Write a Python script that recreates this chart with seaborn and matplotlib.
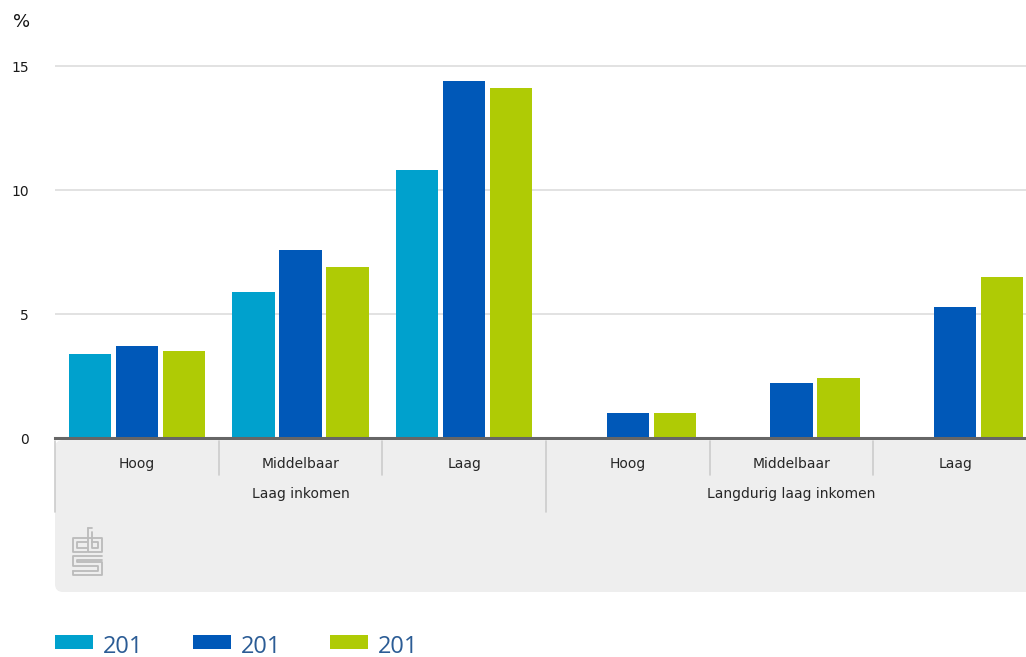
import matplotlib
matplotlib.use("Agg")
import matplotlib.pyplot as plt
from matplotlib.patches import FancyBboxPatch
from matplotlib.lines import Line2D
from matplotlib.transforms import blended_transform_factory, IdentityTransform
import numpy as np
import pandas as pd
import seaborn as sns

# --- data -------------------------------------------------------------
groups = ["Laag inkomen", "Langdurig laag inkomen"]
levels = ["Hoog", "Middelbaar", "Laag"]
series_labels = ["201", "201", "201"]
series_a = [3.4, 5.9, 10.8, np.nan, np.nan, np.nan]
series_b = [3.7, 7.6, 14.4, 1.0, 2.2, 5.3]
series_c = [3.5, 6.9, 14.1, 1.0, 2.4, 6.5]
y_ticks = [0, 5, 10, 15]
unit_label = "%"

colors = ["#00a1cd", "#0058b8", "#afcb05"]

# --- long table for seaborn --------------------------------------------
cat_keys = [f"{g}|{l}" for g in groups for l in levels]
series_keys = ["s1", "s2", "s3"]
rows = []
for key, vals in zip(series_keys, [series_a, series_b, series_c]):
    for c, v in zip(cat_keys, vals):
        rows.append({"cat": c, "series": key, "value": v})
df = pd.DataFrame(rows)

W, H = 1026, 657
sns.set_theme(style="white")
plt.rcParams["font.family"] = ["DejaVu Sans"]

fig = plt.figure(figsize=(W / 100, H / 100), dpi=100)
ax_left, ax_right = 55 / W, 1037 / W
ax_bottom = 1 - 438 / H
ymax = 16.2
ax_top_px = 438 - ymax * 24.8
ax = fig.add_axes([ax_left, ax_bottom, ax_right - ax_left, (438 - ax_top_px) / H])

sns.barplot(data=df, x="cat", y="value", hue="series", order=cat_keys,
            hue_order=series_keys, palette=colors, width=0.86, gap=0.1,
            saturation=1, ax=ax, legend=False, linewidth=0, edgecolor="none")

ax.set_xlim(-0.5, len(cat_keys) - 0.5)
ax.set_ylim(0, ymax)
ax.set_yticks(y_ticks)
ax.set_yticklabels([str(t) for t in y_ticks], fontsize=10, color="#1a1a1a")
ax.tick_params(axis="y", length=0, pad=19)
ax.set_xticks([])
ax.set_xlabel("")
ax.set_ylabel("")
for s in ["top", "right", "left"]:
    ax.spines[s].set_visible(False)
ax.spines["bottom"].set_color("#666666")
ax.spines["bottom"].set_linewidth(2.2)
ax.spines["bottom"].set_zorder(5)
for t in y_ticks[1:]:
    ax.axhline(t, color="#dddddd", linewidth=1.2, zorder=0)
ax.set_axisbelow(True)

fig.text(22 / W, 1 - 22 / H, unit_label, fontsize=13, ha="center", va="center",
         color="#111111")

# --- grey category panel ----------------------------------------------
px = IdentityTransform()
panel = FancyBboxPatch((55 + 8, H - 592 + 8), 1100, (592 - 440) - 16,
                       boxstyle="round,pad=8", transform=px,
                       facecolor="#eeeeee", edgecolor="none", zorder=0)
fig.patches.append(panel)

tr = blended_transform_factory(ax.transData, fig.transFigure)
for i in range(len(cat_keys)):
    x = i - 0.5
    y_end = 512 if i % 3 == 0 else 475
    fig.add_artist(Line2D([x, x], [1 - 441 / H, 1 - y_end / H], transform=tr,
                          color="#cccccc", linewidth=1.2))

for gi, g in enumerate(groups):
    for li, l in enumerate(levels):
        xi = gi * 3 + li
        fig.text(xi, 1 - 464 / H, l, transform=tr, ha="center", va="center",
                 fontsize=10, color="#262626")
    fig.text(gi * 3 + 1, 1 - 494 / H, g, transform=tr, ha="center", va="center",
             fontsize=10, color="#262626")

# small logo mark in the panel
logo_color = "#bbbbbb"
def seg(xs, ys):
    fig.add_artist(Line2D(xs, [H - y for y in ys], transform=px,
                          color=logo_color, linewidth=1.3))
# "c"
seg([87, 73, 73, 87], [538, 538, 552, 552])
seg([87, 77, 77, 87], [542, 542, 548, 548])
# "b"
seg([88, 88, 102, 102, 88], [528, 552, 552, 538, 538])
seg([92, 92, 98, 98, 92], [532, 548, 548, 542, 542])
seg([88, 92], [528, 528])
# "s"
seg([102, 73, 73, 98, 98, 73], [556, 556, 566, 566, 571, 571])
seg([102, 77, 77, 102, 102, 73, 73], [560, 560, 562, 562, 575, 575, 571])

# --- legend -------------------------------------------------------------
for i, (lab, col) in enumerate(zip(series_labels, colors)):
    x0 = 55 + i * 137.5
    fig.patches.append(plt.Rectangle((x0, H - 649), 38, 14, transform=px,
                                     facecolor=col, edgecolor="none"))
    fig.text((x0 + 48) / W, 1 - 647 / H, lab, fontsize=17, color="#2b5c95",
             ha="left", va="center", family="Open Sans")

fig.savefig("out.png", dpi=100)
